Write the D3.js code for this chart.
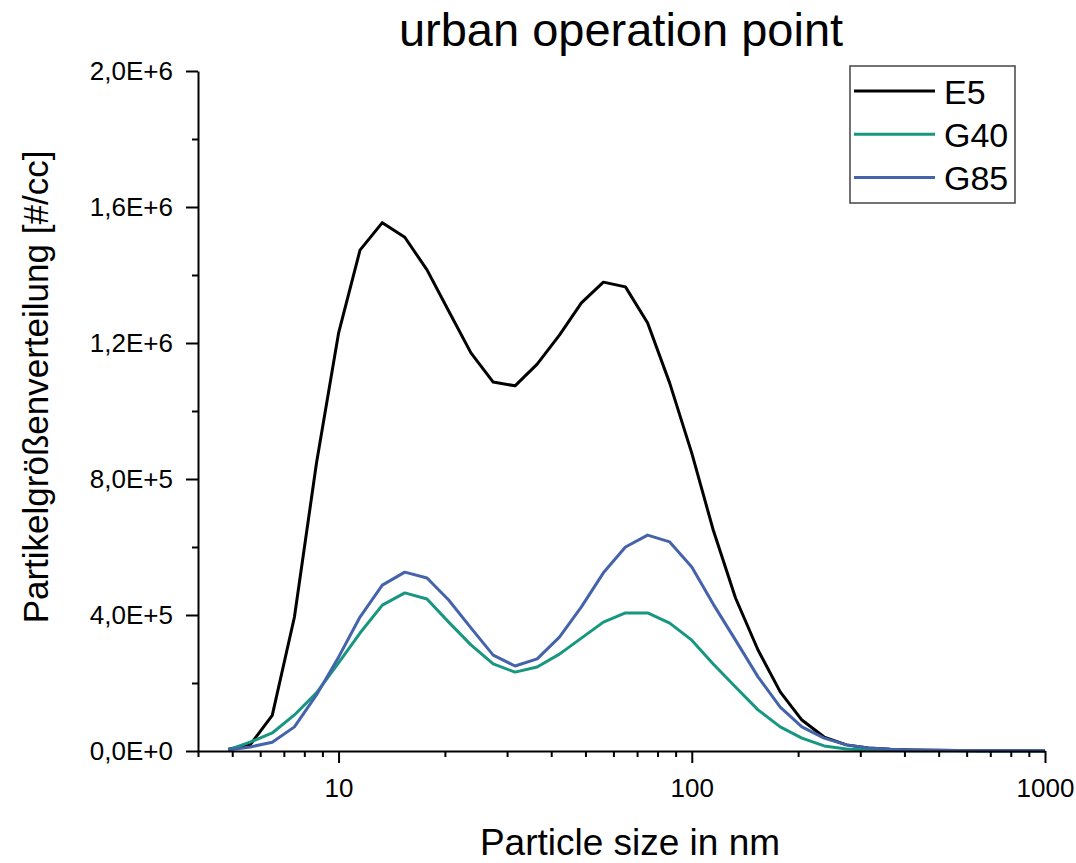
<!DOCTYPE html>
<html>
<head>
<meta charset="utf-8">
<script src="https://cdn.jsdelivr.net/npm/d3@7"></script>
<style>
  body { margin: 0; background: #fff; }
  svg { display: block; font-family: "Liberation Sans", Arial, sans-serif; }
</style>
</head>
<body>
<svg id="chart"></svg>
<script>
// particle diameter in nm (measurement channels)
const sizes = [4.87, 5.62, 6.49, 7.5, 8.66, 10, 11.5, 13.3, 15.4, 17.8, 20.5, 23.7, 27.4, 31.6,
  36.5, 42.2, 48.7, 56.2, 64.9, 75, 86.6, 100, 115, 133, 154, 178, 205, 237, 274, 316,
  365, 422, 487, 562, 649, 750, 866, 1000];

const e5 = [5000, 18000, 105000, 394000, 847000, 1229000, 1473000, 1554000, 1511000, 1415000,
  1294000, 1171000, 1085000, 1074000, 1138000, 1223000, 1318000, 1379000, 1365000, 1259000,
  1082000, 876000, 650000, 450000, 297000, 174000, 91000, 41000, 18000, 9000,
  5000, 3000, 2000, 1500, 1000, 700, 500, 300];

const g40 = [3000, 26000, 53000, 106000, 171000, 259000, 347000, 429000, 465000, 447000,
  379000, 312000, 256000, 232000, 247000, 285000, 332000, 379000, 406000, 406000,
  376000, 326000, 256000, 188000, 121000, 71000, 38000, 15000, 6000, 3000,
  1500, 1000, 700, 500, 300, 200, 150, 100];

const g85 = [3000, 12000, 26000, 71000, 165000, 276000, 394000, 488000, 526000, 509000,
  444000, 362000, 282000, 250000, 271000, 335000, 424000, 524000, 600000, 635000,
  615000, 541000, 432000, 326000, 218000, 129000, 71000, 38000, 18000, 9000,
  5000, 3000, 2000, 1500, 1000, 800, 600, 400];

const seriesNames = ['E5', 'G40', 'G85'];
const seriesColors = ['#000000', '#17977f', '#4563ab'];

const xMajorTicks = [10, 100, 1000];
const xMajorLabels = ['10', '100', '1000'];
const xMinorTicks = [4, 5, 6, 7, 8, 9, 20, 30, 40, 50, 60, 70, 80, 90, 200, 300, 400, 500, 600, 700, 800, 900];
const yMajorTicks = [0, 400000, 800000, 1200000, 1600000, 2000000];
const yMajorLabels = ['0,0E+0', '4,0E+5', '8,0E+5', '1,2E+6', '1,6E+6', '2,0E+6'];
const yMinorTicks = [200000, 600000, 1000000, 1400000, 1800000];

const width = 1076;
const height = 863;
const margin = { top: 71, right: 31, bottom: 112, left: 198 };

const svg = d3.select('#chart').attr('width', width).attr('height', height);

const x = d3
  .scaleLog()
  .domain([4, 1000])
  .range([margin.left, width - margin.right]);
const y = d3
  .scaleLinear()
  .domain([0, 2000000])
  .range([height - margin.bottom, margin.top]);

// data lines
const line = d3
  .line()
  .x((d) => x(d[0]))
  .y((d) => y(d[1]));

[e5, g40, g85].forEach((vals, i) => {
  svg
    .append('path')
    .datum(sizes.map((s, j) => [s, vals[j]]))
    .attr('fill', 'none')
    .attr('stroke', seriesColors[i])
    .attr('stroke-width', 3)
    .attr('stroke-linejoin', 'round')
    .attr('d', line);
});

// y axis
const yAxis = svg.append('g').attr('transform', `translate(${margin.left},0)`);
yAxis.call(
  d3
    .axisLeft(y)
    .tickValues(yMajorTicks)
    .tickSize(12)
    .tickSizeOuter(0)
    .tickPadding(13)
    .tickFormat((d, i) => yMajorLabels[i])
);
svg
  .append('g')
  .attr('transform', `translate(${margin.left},0)`)
  .call(d3.axisLeft(y).tickValues(yMinorTicks).tickSize(6).tickFormat(''))
  .call((g) => g.select('.domain').remove());

// x axis
const xAxis = svg.append('g').attr('transform', `translate(0,${height - margin.bottom})`);
xAxis.call(
  d3
    .axisBottom(x)
    .tickValues(xMajorTicks)
    .tickSize(12)
    .tickSizeOuter(0)
    .tickPadding(16)
    .tickFormat((d, i) => xMajorLabels[i])
);
svg
  .append('g')
  .attr('transform', `translate(0,${height - margin.bottom})`)
  .call(d3.axisBottom(x).tickValues(xMinorTicks).tickSize(6).tickFormat(''))
  .call((g) => g.select('.domain').remove());

svg.selectAll('.domain').attr('stroke', '#000').attr('stroke-width', 2);
svg.selectAll('.tick line').attr('stroke', '#000').attr('stroke-width', 2);
yAxis.selectAll('.tick text').attr('font-size', 26).attr('fill', '#000')
  .attr('font-family', '"Liberation Sans", Arial, sans-serif');
xAxis.selectAll('.tick text').attr('font-size', 26).attr('fill', '#000')
  .attr('font-family', '"Liberation Sans", Arial, sans-serif');

// titles
svg
  .append('text')
  .attr('x', 621)
  .attr('y', 46)
  .attr('text-anchor', 'middle')
  .attr('font-size', 47)
  .text('urban operation point');

svg
  .append('text')
  .attr('x', 630)
  .attr('y', 855)
  .attr('text-anchor', 'middle')
  .attr('font-size', 37)
  .text('Particle size in nm');

svg
  .append('text')
  .attr('transform', 'translate(48,387) rotate(-90)')
  .attr('text-anchor', 'middle')
  .attr('font-size', 35)
  .text('Partikelgrößenverteilung [#/cc]');

// legend
const legend = svg.append('g');
legend
  .append('rect')
  .attr('x', 850)
  .attr('y', 66)
  .attr('width', 165)
  .attr('height', 137)
  .attr('fill', '#fff')
  .attr('stroke', '#444')
  .attr('stroke-width', 1.5);

seriesNames.forEach((name, i) => {
  const ly = 91 + i * 43.3;
  legend
    .append('line')
    .attr('x1', 854)
    .attr('x2', 935)
    .attr('y1', ly)
    .attr('y2', ly)
    .attr('stroke', seriesColors[i])
    .attr('stroke-width', 3);
  legend
    .append('text')
    .attr('x', 944)
    .attr('y', ly + 12.5)
    .attr('font-size', 34)
    .text(name);
});
</script>
</body>
</html>
